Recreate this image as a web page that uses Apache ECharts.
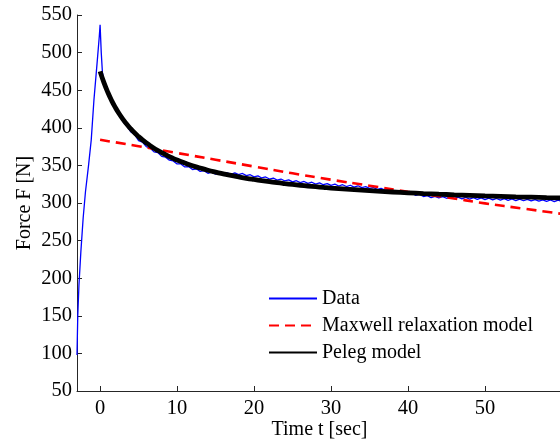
<!DOCTYPE html>
<html>
<head>
<meta charset="utf-8">
<script src="https://cdn.jsdelivr.net/npm/echarts@6/dist/echarts.min.js"></script>
<style>html,body{margin:0;padding:0;background:#fff;}#c{width:560px;height:443px;}</style>
</head>
<body>
<div id="c"></div>
<script>
// ---- data ----
const dataTime = [-3,-2.9,-2.75,-2.5,-2.2,-1.9,-1.5,-1.15,-0.8,-0.4,-0.1,0,0.15,0.3,
  0.5,1,1.5,2,2.5,3,3.5,4,4.5,5,5.5,6,6.5,7,7.5,8,8.5,9,9.5,10,10.5,11,11.5,12,12.5,13,13.5,14,14.5,15,15.5,16,16.5,17,17.5,18,18.5,19,19.5,20,
  20.5,21,21.5,22,22.5,23,23.5,24,24.5,25,25.5,26,26.5,27,27.5,28,28.5,29,29.5,30,30.5,31,31.5,32,32.5,33,33.5,34,34.5,35,35.5,36,36.5,37,37.5,38,38.5,39,39.5,40,
  40.5,41,41.5,42,42.5,43,43.5,44,44.5,45,45.5,46,46.5,47,47.5,48,48.5,49,49.5,50,50.5,51,51.5,52,52.5,53,53.5,54,54.5,55,55.5,56,56.5,57,57.5,58,58.5,59,59.5,60];
const dataForce = [98,150,190,235,280,315,350,384,437,485,522,537,500,474,
  461,446,436,425,417,408,402,394.5,391,383,381,375,373,368,367,362,361,357,356,352,352,348,348.5,344.5,345.5,342,343,339.5,341,338.5,340.5,338.3,340,338,340,337.7,339.3,336.4,337.6,334.8,
  336,333.3,334.6,331.9,333.2,330.5,331.9,329.3,330.7,328.2,329.6,327.1,328.6,326.1,327.6,325.2,326.7,324.3,325.8,323.4,325,322.6,324.3,321.9,323.6,321.2,322.9,320.5,321.7,319.4,320.6,318.2,319.4,317.1,317.9,315.6,316.3,314.1,314.8,312.6,
  313.3,310.1,311.4,308.6,309.9,307.1,308.9,306.7,308.5,306.3,308.1,305.9,307.7,305.5,307.4,305.2,307,304.8,306.7,304.5,306.4,304.2,306,303.9,305.7,303.6,305.4,303.2,305.1,303,304.8,302.7,304.5,302.4,304.2,302.1,304,301.9,303.8,301.7];

const maxwellTime  = [0,5,10,15,20,25,30,35,40,45,50,55,60];
const maxwellForce = [384,375.5,366.5,357.5,348.5,339.5,331,323,315,307.5,299.5,292.5,285.5];

const pelegTime  = [0,0.5,1,1.5,2,2.5,3,3.5,4,4.5,5,5.5,6,6.5,7,7.5,8,8.5,9,9.5,10,11,12,13,14,15,16,17,18,19,20,21,22,23,24,25,26,27,28,29,30,32,34,36,38,40,42,44,46,48,50,52,54,56,58,60];
const pelegForce = [475,460,447.2,436.2,426.7,418.3,410.9,404.3,398.5,393.1,388.3,383.9,380,376.3,372.9,369.8,366.9,364.2,361.7,359.3,357.1,353.2,349.6,346.5,343.6,341.1,338.8,336.6,334.7,332.9,331.3,329.8,328.4,327,325.8,324.7,323.6,322.6,321.7,320.8,319.9,318.4,317,315.7,314.6,313.6,312.6,311.7,310.9,310.2,309.5,308.9,308.2,307.7,307.1,306.7];

const xTicks = [0,10,20,30,40,50];
const seriesNames = ['Data','Maxwell relaxation model','Peleg model'];
const xTitle = 'Time t [sec]';
const yTitle = 'Force F [N]';

const zip = (a,b) => a.map((v,i)=>[v,b[i]]);
const FONT = 'Liberation Serif';
const FS = 20.5;
const FL = 20;
const AX = '#262626';

const chart = echarts.init(document.getElementById('c'), null, {renderer:'canvas'});
chart.setOption({
  animation:false,
  backgroundColor:'#fff',
  textStyle:{fontFamily:FONT},
  grid:{left:77, top:15, width:485, height:376, containLabel:false, outerBoundsMode:'none'},
  xAxis:{
    type:'value', min:-3, max:60,
    name:xTitle, nameLocation:'middle', nameGap:29, nameMoveOverlap:false,
    nameTextStyle:{fontFamily:FONT, fontSize:FL, color:'#000'},
    axisLine:{show:true, onZero:false, lineStyle:{color:AX, width:1}},
    axisTick:{show:true, inside:true, length:5, customValues:xTicks, lineStyle:{color:AX}},
    axisLabel:{show:true, customValues:xTicks, margin:7, fontFamily:FONT, fontSize:FS, color:'#000'},
    splitLine:{show:false}
  },
  yAxis:{
    type:'value', min:50, max:550, interval:50,
    name:yTitle, nameLocation:'middle', nameGap:42, nameRotate:90, nameMoveOverlap:false,
    nameTextStyle:{fontFamily:FONT, fontSize:FL, color:'#000'},
    axisLine:{show:true, onZero:false, lineStyle:{color:AX, width:1}},
    axisTick:{show:true, inside:true, length:5, lineStyle:{color:AX}},
    axisLabel:{show:true, margin:5, fontFamily:FONT, fontSize:FS, color:'#000', showMinLabel:true, showMaxLabel:true},
    splitLine:{show:false}
  },
  legend:{
    show:true, orient:'vertical', left:268, top:288, padding:0,
    itemWidth:48, itemHeight:14, itemGap:6,
    textStyle:{fontFamily:FONT, fontSize:FL, color:'#000', lineHeight:21},
    itemStyle:{opacity:0},
    data:seriesNames
  },
  series:[
    {name:seriesNames[0], type:'line', data:zip(dataTime,dataForce), symbol:'none', showSymbol:false,
     lineStyle:{color:'#0000ff', width:1.3}, itemStyle:{color:'#0000ff'}, z:2},
    {name:seriesNames[1], type:'line', data:zip(maxwellTime,maxwellForce), symbol:'none', showSymbol:false, smooth:true,
     lineStyle:{color:'#ff0000', width:2.6, type:[10,6]}, itemStyle:{color:'#ff0000'}, z:3},
    {name:seriesNames[2], type:'line', data:zip(pelegTime,pelegForce), symbol:'none', showSymbol:false, smooth:true,
     lineStyle:{color:'#000000', width:4.8}, itemStyle:{color:'#000000'}, z:4}
  ]
});
</script>
</body>
</html>
